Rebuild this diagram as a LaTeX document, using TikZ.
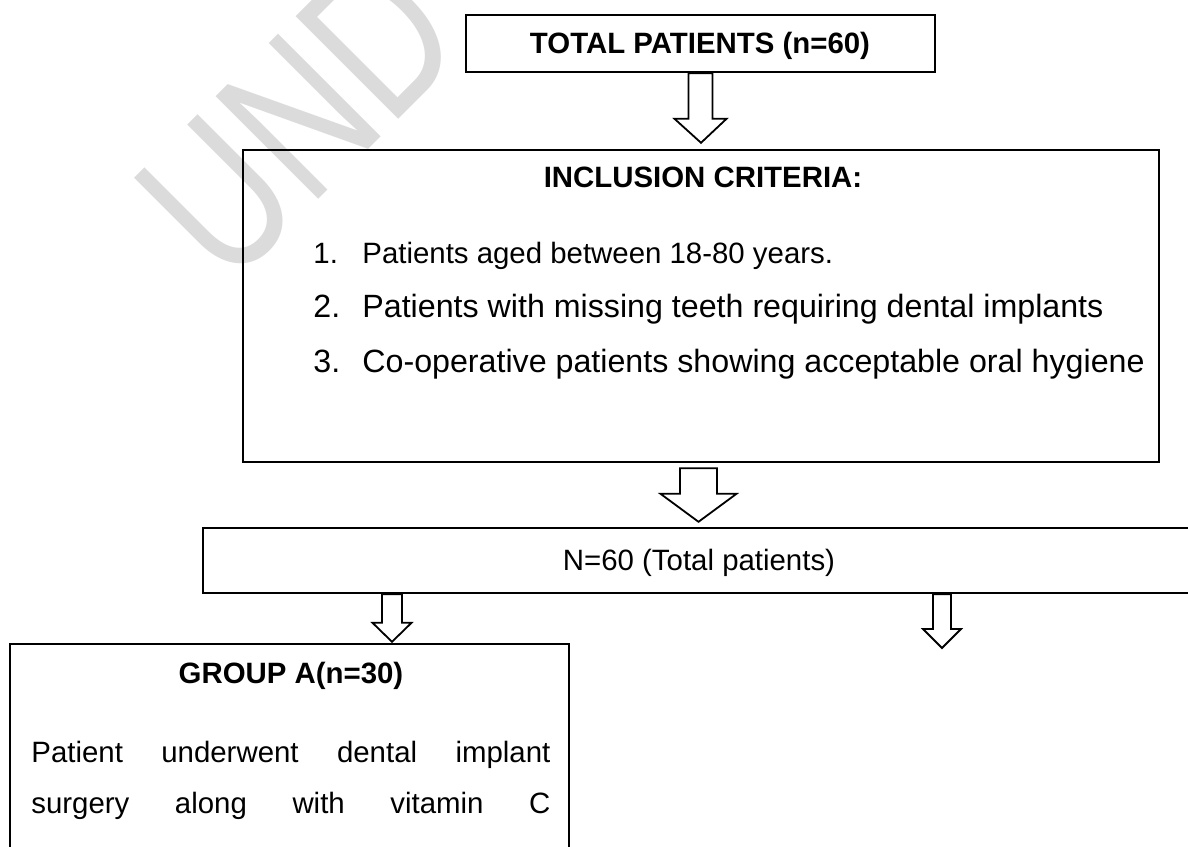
\documentclass[tikz,border=0pt]{standalone}
\usepackage{fontspec}
\setmainfont{Liberation Sans}
\usetikzlibrary{calc}

\tikzset{
  box/.style={draw, rectangle, line width=1.2pt, inner sep=0pt},
  head/.style={font=\fontsize{14.7pt}{17pt}\selectfont\bfseries, inner sep=0pt},
  txt/.style={font=\fontsize{14.7pt}{17pt}\selectfont, inner sep=0pt},
  bigtxt/.style={font=\fontsize{16.1pt}{19pt}\selectfont, inner sep=0pt},
  wmark/.style={text=black!14, inner sep=0pt, font=\fontsize{105.5pt}{110pt}\selectfont},
  blockarrow/.style={draw, fill=white, line width=0.9pt, line join=miter},
}

% hollow block arrow: start, tip, half shaft, half head, head length
\newcommand{\hollowarrow}[5]{%
  \draw[blockarrow] let \p1=(#1), \p2=(#2) in
    (\x1-#3,\y1) -- (\x1-#3,\y2+#5) -- (\x1-#4,\y2+#5) -- (\x2,\y2)
    -- (\x1+#4,\y2+#5) -- (\x1+#3,\y2+#5) -- (\x1+#3,\y1) -- cycle;}

\begin{document}
\begin{tikzpicture}[x=0.5pt, y=-0.5pt]
  \path[use as bounding box] (0,0) rectangle (1188,846);
  \clip (0,0) rectangle (1188,846);

  % watermark
  \node[wmark, rotate=45, anchor=base west] (wm) at (228,290) {\scalebox{0.75}[1]{UND}};

  % boxes
  \node[box, minimum width=234.5pt, minimum height=28.5pt] (total) at (700.5,43.5) {};
  \node[box, minimum width=458pt, minimum height=156pt] (incl) at (701,306) {};
  \node[box, minimum width=497pt, minimum height=32.5pt] (nbox) at (700,560.5) {};
  \node[box, minimum width=279.5pt, minimum height=118pt] (ga) at (289.5,762) {};

  % texts
  \node[head, anchor=base] (totaltxt) at (700,53) {TOTAL PATIENTS (n=60)};
  \node[head, anchor=base] (incltxt) at (703,187) {INCLUSION CRITERIA:};
  \node[txt, anchor=base west] (n1) at (313,263) {1.};
  \node[txt, anchor=base west] (c1) at (362,263) {Patients aged between 18-80 years.};
  \node[bigtxt, anchor=base west] (n2) at (313,317) {2.};
  \node[bigtxt, anchor=base west] (c2) at (362,317) {Patients with missing teeth requiring dental implants};
  \node[bigtxt, anchor=base west] (n3) at (313,372) {3.};
  \node[bigtxt, anchor=base west] (c3) at (362,372) {Co-operative patients showing acceptable oral hygiene};
  \node[txt, anchor=base] (ntxt) at (699,570) {N=60 (Total patients)};
  \node[head, anchor=base] (gatxt) at (291,683) {GROUP A(n=30)};
  \node[txt, anchor=base west] (ga1) at (31,762) {\makebox[259.5pt][s]{Patient underwent dental implant}};
  \node[txt, anchor=base west] (ga2) at (31,813) {\makebox[259.5pt][s]{surgery along with vitamin C}};

  % arrow ends
  \coordinate (a1t) at ($(incl.north)+(0,-6)$);
  \coordinate (a2s) at ($(incl.south)+(-2.5,5)$);
  \coordinate (a2t) at ($(nbox.north)+(-1.5,-5)$);
  \coordinate (a3s) at ($(nbox.south)+(-308,0)$);
  \coordinate (a3t) at ($(ga.north)+(102.5,-1)$);
  \coordinate (a4s) at ($(nbox.south)+(242,0)$);
  \coordinate (a4t) at (942,648);

  % arrows
  \hollowarrow{total.south}{a1t}{6pt}{13pt}{12pt}
  \hollowarrow{a2s}{a2t}{9.25pt}{19pt}{14pt}
  \hollowarrow{a3s}{a3t}{5pt}{9.75pt}{9.5pt}
  \hollowarrow{a4s}{a4t}{4.5pt}{9.5pt}{9.5pt}
\end{tikzpicture}
\end{document}
